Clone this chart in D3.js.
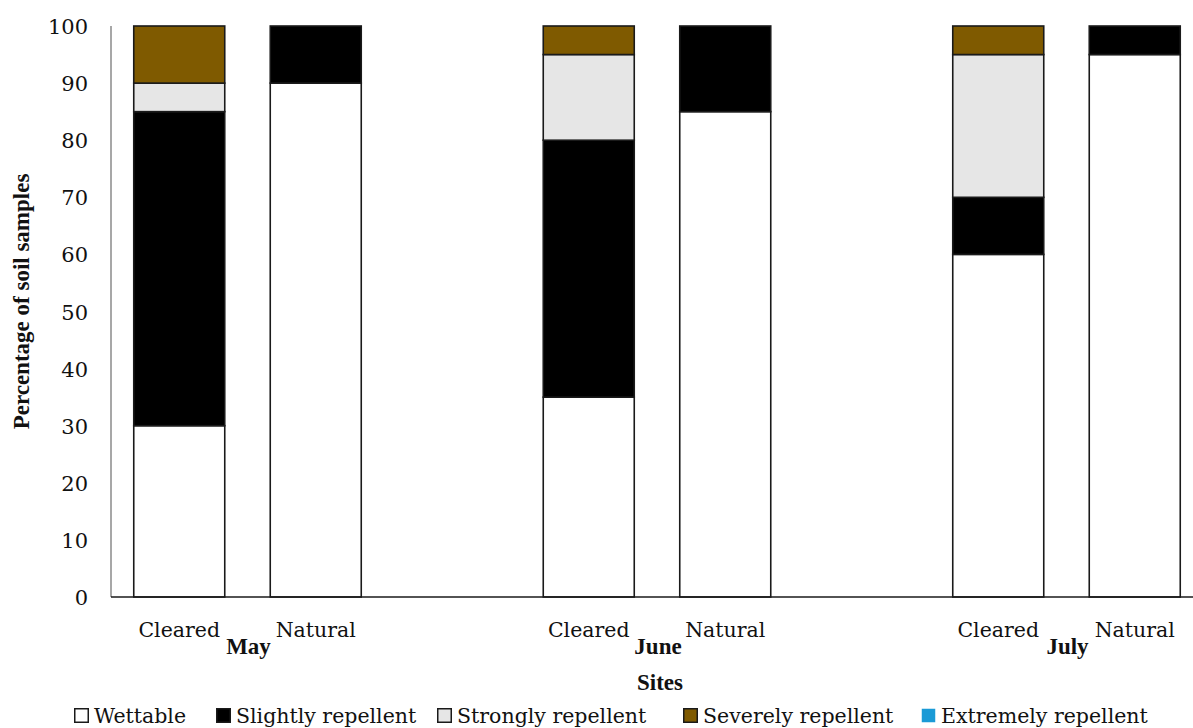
<!DOCTYPE html>
<html>
<head>
<meta charset="utf-8">
<script src="https://cdn.jsdelivr.net/npm/d3@7"></script>
<style>
  html, body { margin: 0; padding: 0; background: #fff; }
  svg { display: block; }
</style>
</head>
<body>
<svg id="chart" width="1193" height="728"></svg>
<script>
// ---- data ----
const months = ["May", "June", "July"];
const sites = ["Cleared", "Natural"];
const classes = ["Wettable", "Slightly repellent", "Strongly repellent", "Severely repellent", "Extremely repellent"];
const classColors = ["#ffffff", "#000000", "#e6e6e6", "#7f5a00", "#1a9ad6"];
// percentage per bar (order: May Cleared, May Natural, June Cleared, June Natural, July Cleared, July Natural)
const wettable   = [30, 90, 35, 85, 60, 95];
const slightly   = [55, 10, 45, 15, 10, 5];
const strongly   = [5, 0, 15, 0, 25, 0];
const severely   = [10, 0, 5, 0, 5, 0];
const extremely  = [0, 0, 0, 0, 0, 0];
const yTicks = [0, 10, 20, 30, 40, 50, 60, 70, 80, 90, 100];

const series = [wettable, slightly, strongly, severely, extremely];

(function () {
const FONT = '"DejaVu Serif", serif';
const BFONT = '"Liberation Serif", "DejaVu Serif", serif';
const legendX = [74, 216, 437, 683, 921];
const bars = [];
months.forEach((m, mi) => sites.forEach((s, si) => {
  const idx = mi * 2 + si;
  const row = { key: m + "|" + s, month: m, site: s };
  classes.forEach((c, ci) => row[c] = series[ci][idx]);
  bars.push(row);
}));
const slots = [];
months.forEach((m, mi) => {
  sites.forEach(s => slots.push(m + "|" + s));
  if (mi < months.length - 1) slots.push("gap" + mi);
});

const svg = d3.select("#chart");
const pLeft = 111, pRight = 1203, pTop = 26, pBottom = 597;

const x = d3.scaleBand().domain(slots).range([pLeft, pRight]).paddingInner(1/3).paddingOuter(1/6);
const y = d3.scaleLinear().domain([0, 100]).range([pBottom, pTop]);

const stacked = d3.stack().keys(classes)(bars);

const g = svg.append("g");
stacked.forEach((layer, li) => {
  g.append("g").selectAll("rect").data(layer.filter(d => d[1] - d[0] > 0)).join("rect")
    .attr("x", d => x(d.data.key))
    .attr("width", x.bandwidth())
    .attr("y", d => y(d[1]))
    .attr("height", d => y(d[0]) - y(d[1]))
    .attr("fill", classColors[li])
    .attr("stroke", "#1a1a1a")
    .attr("stroke-width", 1.6);
});

svg.append("line").attr("x1", pLeft).attr("x2", pLeft).attr("y1", y(100)).attr("y2", y(0))
  .attr("stroke", "#8a8a8a").attr("stroke-width", 1.5);
svg.append("line").attr("x1", pLeft).attr("x2", 1193).attr("y1", y(0)).attr("y2", y(0))
  .attr("stroke", "#1a1a1a").attr("stroke-width", 1.6);

const yAxis = d3.axisLeft(y).tickValues(yTicks).tickSize(0).tickPadding(0);
const ya = svg.append("g").attr("transform", "translate(88,0)").call(yAxis);
ya.select(".domain").remove();
ya.attr("font-family", FONT).attr("font-size", 21);
ya.selectAll("text").style("font-family", FONT).attr("fill", "#111").attr("dy", "0.36em");

svg.append("g").selectAll("text").data(bars).join("text")
  .attr("x", d => x(d.key) + x.bandwidth() / 2)
  .attr("y", 637)
  .attr("text-anchor", "middle")
  .attr("font-size", 20.5)
  .style("font-family", FONT)
  .attr("fill", "#111")
  .text(d => d.site);

svg.append("g").selectAll("text").data(months).join("text")
  .attr("x", m => (x(m + "|Cleared") + x(m + "|Natural") + x.bandwidth()) / 2 + 1)
  .attr("y", 654)
  .attr("text-anchor", "middle")
  .attr("font-size", 23)
  .attr("font-weight", "bold")
  .style("font-family", BFONT)
  .attr("fill", "#111")
  .text(m => m);

svg.append("text")
  .attr("x", (x("June|Cleared") + x("June|Natural") + x.bandwidth()) / 2 + 3)
  .attr("y", 690)
  .attr("text-anchor", "middle")
  .attr("font-size", 23)
  .attr("font-weight", "bold")
  .style("font-family", BFONT)
  .attr("fill", "#111")
  .text("Sites");

svg.append("text")
  .attr("transform", `translate(29,${(pTop + pBottom) / 2 - 10}) rotate(-90)`)
  .attr("text-anchor", "middle")
  .attr("font-size", 23)
  .attr("font-weight", "bold")
  .style("font-family", BFONT)
  .attr("fill", "#111")
  .text("Percentage of soil samples");

const lg = svg.append("g");
classes.forEach((c, i) => {
  const item = lg.append("g").attr("transform", `translate(${legendX[i]},0)`);
  item.append("rect").attr("x", 0.75).attr("y", 708.75).attr("width", 13.5).attr("height", 13.5)
    .attr("fill", classColors[i])
    .attr("stroke", i === 4 ? "none" : "#1a1a1a").attr("stroke-width", 1.5);
  item.append("text").attr("x", 20).attr("y", 723).attr("font-size", 20.5)
    .style("font-family", FONT).attr("fill", "#111").text(c);
});
})();
</script>
</body>
</html>
